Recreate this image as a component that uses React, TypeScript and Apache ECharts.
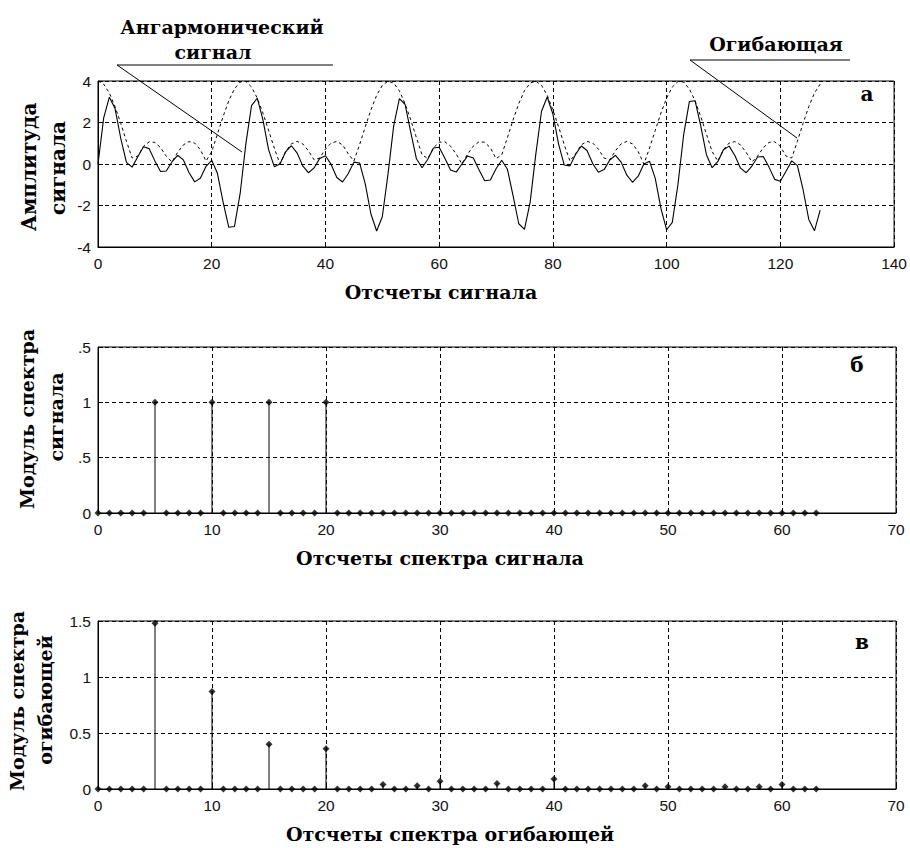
import React, { useEffect, useRef } from "react";
import * as echarts from "echarts";

// ---- Data ----
const signalValues = [
  0, 2.22, 3.22, 2.67, 1.24, 0.08, -0.15, 0.35, 0.83, 0.74,
  0.15, -0.36, -0.34, 0.10, 0.42, 0.20, -0.41, -0.86, -0.69, -0.11,
  0.18, -0.45, -1.84, -3.05, -3.01, -1.42, 0.97, 2.81, 3.17, 2.14,
  0.69, -0.13, 0, 0.59, 0.88, 0.54, -0.09, -0.42, -0.19, 0.27,
  0.40, -0.02, -0.65, -0.87, -0.47, 0.09, 0.05, -0.96, -2.41, -3.23,
  -2.54, -0.49, 1.84, 3.15, 2.88, 1.54, 0.25, -0.18, 0.23, 0.77,
  0.81, 0.28, -0.29, -0.39, 0, 0.39, 0.29, -0.28, -0.81, -0.77,
  -0.23, 0.18, -0.25, -1.54, -2.88, -3.15, -1.84, 0.49, 2.54, 3.23,
  2.41, 0.96, -0.05, -0.09, 0.47, 0.87, 0.65, 0.02, -0.40, -0.27,
  0.19, 0.42, 0.09, -0.54, -0.88, -0.59, 0, 0.13, -0.69, -2.14,
  -3.17, -2.81, -0.97, 1.42, 3.01, 3.05, 1.84, 0.45, -0.18, 0.11,
  0.69, 0.86, 0.41, -0.20, -0.42, -0.10, 0.34, 0.36, -0.15, -0.74,
  -0.83, -0.35, 0.15, -0.08, -1.24, -2.67, -3.22, -2.22,
];

const envelopeValues = [
  4, 3.85, 3.42, 2.77, 1.96, 1.10, 0.29, 0.38, 0.85, 1.07,
  1.04, 0.79, 0.38, 0.10, 0.56, 0.92, 1.08, 1.01, 0.69, 0.14,
  0.60, 1.44, 2.29, 3.05, 3.62, 3.95, 3.98, 3.71, 3.18, 2.46,
  1.62, 0.77, 0, 0.60, 0.97, 1.09, 0.97, 0.64, 0.20, 0.29,
  0.72, 1.01, 1.09, 0.92, 0.50, 0.14, 0.93, 1.79, 2.61, 3.31,
  3.79, 3.99, 3.90, 3.53, 2.91, 2.13, 1.27, 0.44, 0.26, 0.78,
  1.05, 1.07, 0.86, 0.48, 0, 0.48, 0.86, 1.07, 1.05, 0.78,
  0.26, 0.44, 1.27, 2.13, 2.91, 3.53, 3.90, 3.99, 3.79, 3.31,
  2.61, 1.79, 0.93, 0.14, 0.50, 0.92, 1.09, 1.01, 0.72, 0.29,
  0.20, 0.64, 0.97, 1.09, 0.97, 0.60, 0, 0.77, 1.62, 2.46,
  3.18, 3.71, 3.98, 3.95, 3.62, 3.05, 2.29, 1.44, 0.60, 0.14,
  0.69, 1.01, 1.08, 0.92, 0.56, 0.10, 0.38, 0.79, 1.04, 1.07,
  0.85, 0.38, 0.29, 1.10, 1.96, 2.77, 3.42, 3.85,
];

const signalSpectrum = [
  0, 0, 0, 0, 0, 1, 0, 0, 0, 0,
  1, 0, 0, 0, 0, 1, 0, 0, 0, 0,
  1, 0, 0, 0, 0, 0, 0, 0, 0, 0,
  0, 0, 0, 0, 0, 0, 0, 0, 0, 0,
  0, 0, 0, 0, 0, 0, 0, 0, 0, 0,
  0, 0, 0, 0, 0, 0, 0, 0, 0, 0,
  0, 0, 0, 0,
];

const envelopeSpectrum = [
  0, 0, 0, 0, 0, 1.48, 0, 0, 0, 0,
  0.87, 0, 0, 0, 0, 0.40, 0, 0, 0, 0,
  0.36, 0, 0, 0, 0, 0.04, 0, 0, 0.03, 0,
  0.07, 0, 0, 0, 0, 0.05, 0, 0, 0, 0,
  0.09, 0, 0, 0, 0, 0, 0, 0, 0.03, 0,
  0.02, 0, 0, 0, 0, 0.02, 0, 0, 0.02, 0,
  0.04, 0, 0, 0,
];

const topYLabels: Record<string, string> = { "-4": "-4", "-2": "-2", "0": "0", "2": "2", "4": "4" };
const midYLabels: Record<string, string> = { "0": "0", "0.5": ".5", "1": "1", "1.5": ".5" };
const botYLabels: Record<string, string> = { "0": "0", "0.5": "0.5", "1": "1", "1.5": "1.5" };

const SERIF = "'DejaVu Serif', 'Liberation Serif', serif";
const SANS = "'Liberation Sans', Arial, sans-serif";

export default function App() {
  const ref = useRef<HTMLDivElement>(null);

  useEffect(() => {
    if (!ref.current) return;
    const chart = echarts.init(ref.current, undefined, { renderer: "svg" });

    const grids = [
      { left: 98, top: 81, width: 797, height: 166 },
      { left: 98, top: 347, width: 798, height: 166 },
      { left: 98, top: 621, width: 798, height: 168 },
    ].map((g) => ({ ...g, show: true, borderColor: "#000", borderWidth: 1, backgroundColor: "transparent" }));

    const axisLabelBase = { color: "#111", fontFamily: SANS, fontSize: 15.5 };
    const splitLine = { show: true, lineStyle: { color: "#000", type: [4, 3] as any, width: 1 } };
    const axisTick = { show: true, inside: true, length: 5, lineStyle: { color: "#000" } };
    const axisLine = { show: true, onZero: false, lineStyle: { color: "#000", width: 1 } };

    const xAxis = [
      { gridIndex: 0, type: "value", min: 0, max: 140, interval: 20, axisLine, axisTick, splitLine, axisLabel: { ...axisLabelBase, margin: 8 } },
      { gridIndex: 1, type: "value", min: 0, max: 70, interval: 10, axisLine, axisTick, splitLine, axisLabel: { ...axisLabelBase, margin: 8 } },
      { gridIndex: 2, type: "value", min: 0, max: 70, interval: 10, axisLine, axisTick, splitLine, axisLabel: { ...axisLabelBase, margin: 8 } },
    ];
    const yAxis = [
      { gridIndex: 0, type: "value", min: -4, max: 4, interval: 2, axisLine, axisTick, splitLine,
        axisLabel: { ...axisLabelBase, margin: 7, formatter: (v: number) => topYLabels[String(v)] ?? String(v) } },
      { gridIndex: 1, type: "value", min: 0, max: 1.5, interval: 0.5, axisLine, axisTick, splitLine,
        axisLabel: { ...axisLabelBase, margin: 7, formatter: (v: number) => midYLabels[String(v)] ?? String(v) } },
      { gridIndex: 2, type: "value", min: 0, max: 1.5, interval: 0.5, axisLine, axisTick, splitLine,
        axisLabel: { ...axisLabelBase, margin: 7, formatter: (v: number) => botYLabels[String(v)] ?? String(v) } },
    ];

    const stemRender = (params: any, api: any) => {
      const x = api.value(0);
      const y = api.value(1);
      const p0 = api.coord([x, 0]);
      const p1 = api.coord([x, y]);
      return {
        type: "line",
        shape: { x1: p0[0], y1: p0[1], x2: p1[0], y2: p1[1] },
        style: { stroke: "#000", lineWidth: 1 },
      };
    };

    const sigData = signalValues.map((v, i) => [i, v]);
    const envData = envelopeValues.map((v, i) => [i, v]);
    const sSpec = signalSpectrum.map((v, i) => [i, v]);
    const eSpec = envelopeSpectrum.map((v, i) => [i, v]);

    const series: any[] = [
      { type: "line", xAxisIndex: 0, yAxisIndex: 0, data: envData, showSymbol: false, symbol: "none",
        lineStyle: { color: "#000", width: 1, type: [3, 3] }, z: 3 },
      { type: "line", xAxisIndex: 0, yAxisIndex: 0, data: sigData, showSymbol: false, symbol: "none",
        lineStyle: { color: "#000", width: 1.1 }, z: 4 },
      { type: "custom", xAxisIndex: 1, yAxisIndex: 1, data: sSpec, renderItem: stemRender, encode: { x: 0, y: 1 }, z: 3 },
      { type: "scatter", xAxisIndex: 1, yAxisIndex: 1, data: sSpec, symbol: "diamond", symbolSize: 7,
        itemStyle: { color: "#000" }, z: 4 },
      { type: "custom", xAxisIndex: 2, yAxisIndex: 2, data: eSpec, renderItem: stemRender, encode: { x: 0, y: 1 }, z: 3 },
      { type: "scatter", xAxisIndex: 2, yAxisIndex: 2, data: eSpec, symbol: "diamond", symbolSize: 7,
        itemStyle: { color: "#000" }, z: 4 },
    ];

    const titleText = (text: string, x: number, y: number, size = 19, rot = 0) => ({
      type: "text",
      x,
      y,
      rotation: rot,
      z: 10,
      style: {
        text,
        fontFamily: SERIF,
        fontWeight: "bold",
        fontSize: size,
        fill: "#000",
        align: "center",
        verticalAlign: "middle",
      },
    });
    const seg = (x1: number, y1: number, x2: number, y2: number) => ({
      type: "line",
      z: 10,
      shape: { x1, y1, x2, y2 },
      style: { stroke: "#000", lineWidth: 1 },
    });
    const R = Math.PI / 2;

    const graphic = [
      titleText("Ангармонический", 222, 27),
      titleText("сигнал", 213, 52),
      seg(117, 65, 333, 65),
      seg(117, 65, 242, 152),
      titleText("Огибающая", 776, 44),
      seg(690, 60, 850, 60),
      seg(690, 60, 797, 138),
      titleText("а", 867, 94, 20),
      titleText("б", 857, 365, 20),
      titleText("в", 862, 642, 20),
      titleText("Отсчеты сигнала", 441, 292),
      titleText("Отсчеты спектра сигнала", 440, 558),
      titleText("Отсчеты спектра огибающей", 450, 834),
      titleText("Амплитуда", 29, 167, 20, R),
      titleText("сигнала", 58, 168, 20, R),
      titleText("Модуль спектра", 27, 419, 19, R),
      titleText("сигнала", 56, 417, 19, R),
      titleText("Модуль спектра", 17, 701, 19, R),
      titleText("огибающей", 45, 700, 19, R),
    ];

    chart.setOption({
      animation: false,
      backgroundColor: "#fff",
      grid: grids,
      xAxis,
      yAxis,
      series,
      graphic,
    } as any);

    return () => chart.dispose();
  }, []);

  return (
    <div
      ref={ref}
      style={{ position: "absolute", left: 0, top: 0, width: 910, height: 848, background: "#fff" }}
    />
  );
}
